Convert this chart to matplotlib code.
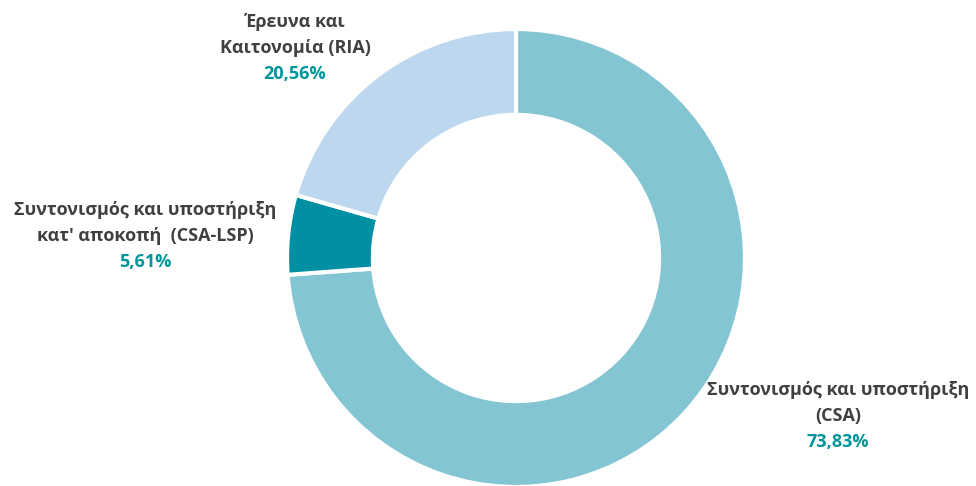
import matplotlib
matplotlib.use("Agg")
import matplotlib.pyplot as plt

categories = ["Συντονισμός και υποστήριξη\n(CSA)",
              "Συντονισμός και υποστήριξη\nκατ' αποκοπή  (CSA-LSP)",
              "Έρευνα και\nΚαιτονομία (RIA)"]
values = [73.83, 5.61, 20.56]
pct_labels = ["73,83%", "5,61%", "20,56%"]
colors = ["#84C5D3", "#008FA3", "#BDD7EE"]

W, H = 976, 486
fig = plt.figure(figsize=(W / 100, H / 100), dpi=100)
ax = fig.add_axes([0, 0, 1, 1])

cx, cy, R = 516, H - 258, 229
ax.pie(values, colors=colors, startangle=90, counterclock=False,
       center=(cx, cy), radius=R, frame=True,
       wedgeprops=dict(width=R * 0.375, edgecolor="white", linewidth=3))
ax.set_xlim(0, W)
ax.set_ylim(0, H)
ax.set_aspect("equal")
ax.axis("off")

font = "Open Sans"
label_pos = [(838, 390), (145, 210), (295, 22)]
dark = "#404040"
teal = "#00959A"
for cat, pct, (x, y) in zip(categories, pct_labels, label_pos):
    lines = cat.split("\n")
    for i, ln in enumerate(lines):
        ax.text(x, H - (y + 26 * i), ln, ha="center", va="center",
                fontsize=13.0, fontweight="bold", color=dark, family=font)
    ax.text(x, H - (y + 26 * len(lines)), pct, ha="center", va="center",
            fontsize=13.0, fontweight="bold", color=teal, family=font)

fig.savefig("out.png", dpi=100)
